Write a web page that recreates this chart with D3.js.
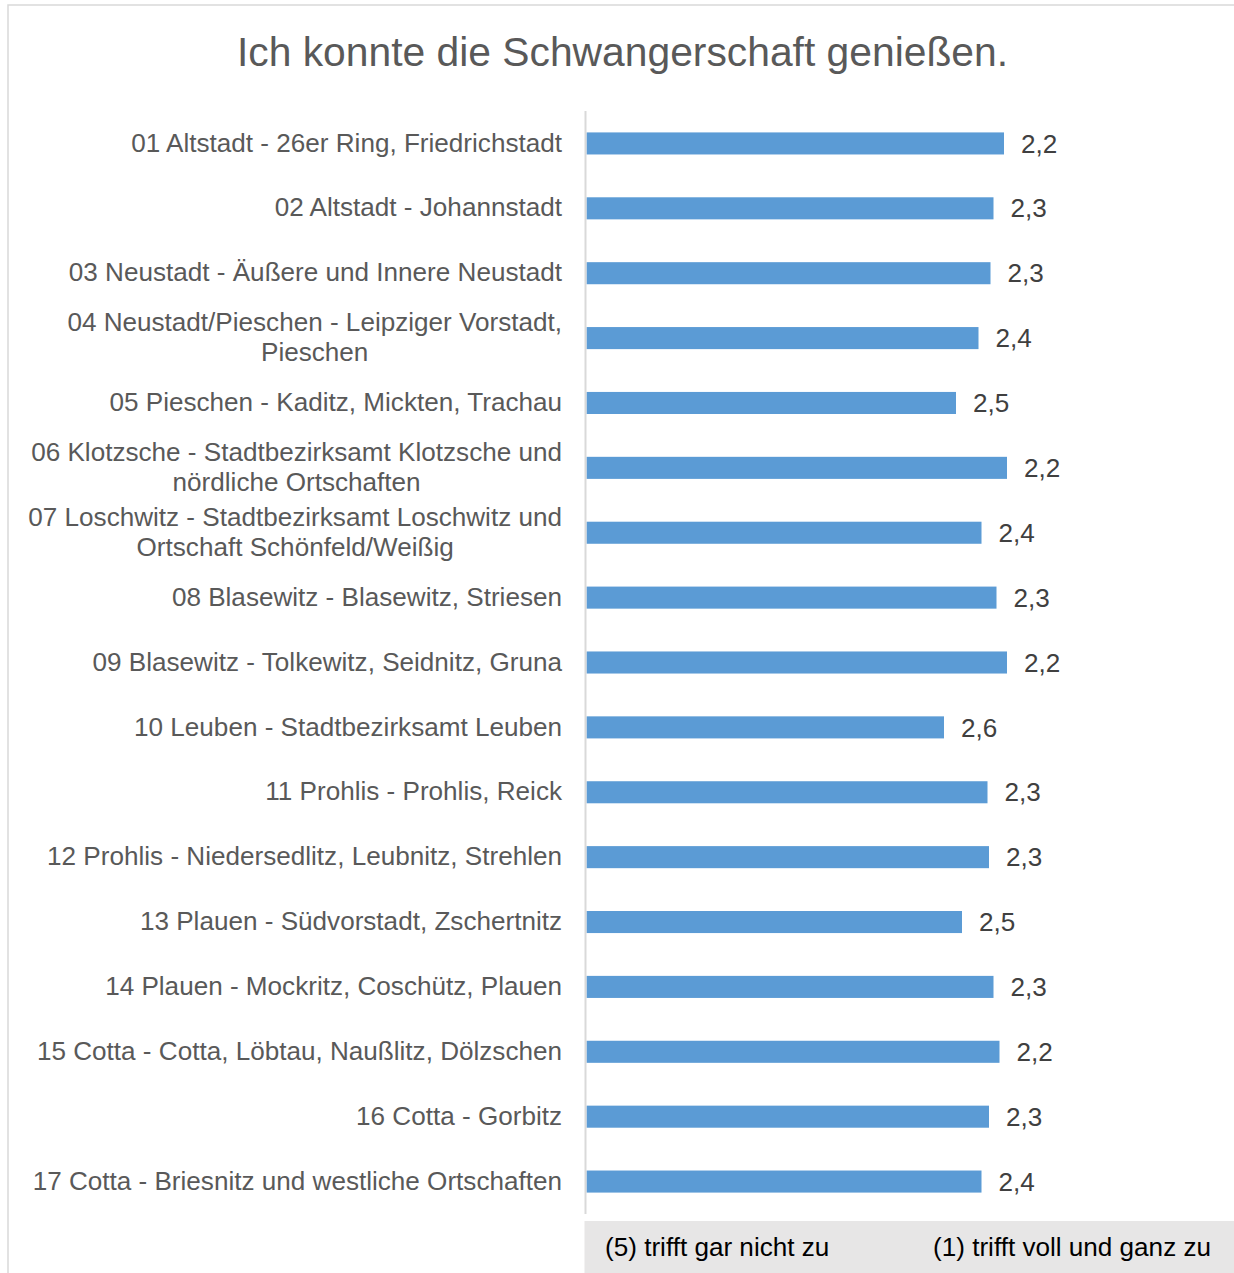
<!DOCTYPE html>
<html>
<head>
<meta charset="utf-8">
<script src="https://d3js.org/d3.v7.min.js"></script>
<style>
    body { margin: 0; background: #fff; }
    text { font-family: "Liberation Sans", Arial, sans-serif; }
</style>
</head>
<body>
<svg id="chart"></svg>
<script>
let title = "Ich konnte die Schwangerschaft genießen.";

let districts = [
    "01 Altstadt - 26er Ring, Friedrichstadt",
    "02 Altstadt - Johannstadt",
    "03 Neustadt - Äußere und Innere Neustadt",
    "04 Neustadt/Pieschen - Leipziger Vorstadt, Pieschen",
    "05 Pieschen - Kaditz, Mickten, Trachau",
    "06 Klotzsche - Stadtbezirksamt Klotzsche und nördliche Ortschaften",
    "07 Loschwitz - Stadtbezirksamt Loschwitz und Ortschaft Schönfeld/Weißig",
    "08 Blasewitz - Blasewitz, Striesen",
    "09 Blasewitz - Tolkewitz, Seidnitz, Gruna",
    "10 Leuben - Stadtbezirksamt Leuben",
    "11 Prohlis - Prohlis, Reick",
    "12 Prohlis - Niedersedlitz, Leubnitz, Strehlen",
    "13 Plauen - Südvorstadt, Zschertnitz",
    "14 Plauen - Mockritz, Coschütz, Plauen",
    "15 Cotta - Cotta, Löbtau, Naußlitz, Dölzschen",
    "16 Cotta - Gorbitz",
    "17 Cotta - Briesnitz und westliche Ortschaften"
];

// mean rating, 1 = trifft voll und ganz zu ... 5 = trifft gar nicht zu
let meanValues = [2.21, 2.28, 2.30, 2.38, 2.53, 2.19, 2.36, 2.26, 2.19, 2.61,
    2.32, 2.31, 2.49, 2.28, 2.24, 2.31, 2.36];

let scaleEnds = ["(5) trifft gar nicht zu", "(1) trifft voll und ganz zu"];

let width = 1234,
    height = 1273;
let plot = {left: 585.5, right: 1185.5, top: 111, bottom: 1214};
let labelRight = 562;
let wrapWidth = 560;
let fontSize = 26.1;

let svg = d3.select("#chart")
    .attr("width", width)
    .attr("height", height);

// outer frame (only top and left edge visible)
svg.append("path")
    .attr("d", "M8," + height + "V5H" + width)
    .attr("fill", "none")
    .attr("stroke", "#d9d9d9")
    .attr("stroke-width", 1.5);

svg.append("text")
    .attr("x", 622.5)
    .attr("y", 66)
    .attr("text-anchor", "middle")
    .attr("font-size", 40.8)
    .attr("fill", "#595959")
    .text(title);

let x = d3.scaleLinear()
    .domain([5, 1])
    .range([plot.left, plot.right]);

let y = d3.scaleBand()
    .domain(districts)
    .range([plot.top, plot.bottom])
    .paddingInner(0.66)
    .paddingOuter(0.33);

let data = districts.map(function (d, i) {
    return {name: d, value: meanValues[i]};
});

// bars
svg.append("g")
    .selectAll("rect")
    .data(data)
    .enter().append("rect")
    .attr("x", x(5) + 1)
    .attr("y", function (d) { return y(d.name); })
    .attr("width", function (d) { return x(d.value) - x(5) - 1; })
    .attr("height", y.bandwidth())
    .attr("fill", "#5b9bd5");

// vertical axis line
svg.append("line")
    .attr("x1", x(5))
    .attr("x2", x(5))
    .attr("y1", plot.top)
    .attr("y2", plot.bottom)
    .attr("stroke", "#d9d9d9")
    .attr("stroke-width", 2);

// value labels
let fmt = d3.format(".1f");
svg.append("g")
    .selectAll("text")
    .data(data)
    .enter().append("text")
    .attr("x", function (d) { return x(d.value) + 17; })
    .attr("y", function (d) { return y(d.name) + y.bandwidth() / 2; })
    .attr("dy", "0.35em")
    .attr("font-size", fontSize)
    .attr("fill", "#404040")
    .text(function (d) { return fmt(d.value).replace(".", ","); });

// category labels, wrapped like excel does it
let labels = svg.append("g")
    .attr("font-size", fontSize)
    .attr("fill", "#595959");

districts.forEach(function (name) {
    let cy = y(name) + y.bandwidth() / 2 - 1;
    let t = labels.append("text").attr("text-anchor", "middle");
    let words = name.split(" ");
    let lines = [];
    let line = [];
    let tspan = t.append("tspan");
    for (let i = 0; i < words.length; i++) {
        line.push(words[i]);
        tspan.text(line.join(" "));
        if (tspan.node().getComputedTextLength() > wrapWidth && line.length > 1) {
            line.pop();
            lines.push(line.join(" "));
            line = [words[i]];
        }
    }
    lines.push(line.join(" "));
    tspan.remove();

    let widths = [];
    lines.forEach(function (l) {
        let s = t.append("tspan").text(l);
        widths.push(s.node().getComputedTextLength());
        s.remove();
    });
    let cx = labelRight - d3.max(widths) / 2;
    let lineHeight = 30;
    let y0 = cy - (lines.length - 1) * lineHeight / 2;
    lines.forEach(function (l, i) {
        t.append("tspan")
            .attr("x", cx)
            .attr("y", y0 + i * lineHeight)
            .attr("dy", "0.35em")
            .text(l);
    });
});

// scale legend box at the bottom
svg.append("rect")
    .attr("x", 584.5)
    .attr("y", 1221)
    .attr("width", width - 584.5)
    .attr("height", height - 1221)
    .attr("fill", "#e7e6e6");

svg.append("text")
    .attr("x", 605)
    .attr("y", 1247)
    .attr("dy", "0.35em")
    .attr("font-size", fontSize)
    .attr("fill", "#000")
    .text(scaleEnds[0]);

svg.append("text")
    .attr("x", 1211)
    .attr("y", 1247)
    .attr("dy", "0.35em")
    .attr("text-anchor", "end")
    .attr("font-size", fontSize)
    .attr("fill", "#000")
    .text(scaleEnds[1]);
</script>
</body>
</html>
